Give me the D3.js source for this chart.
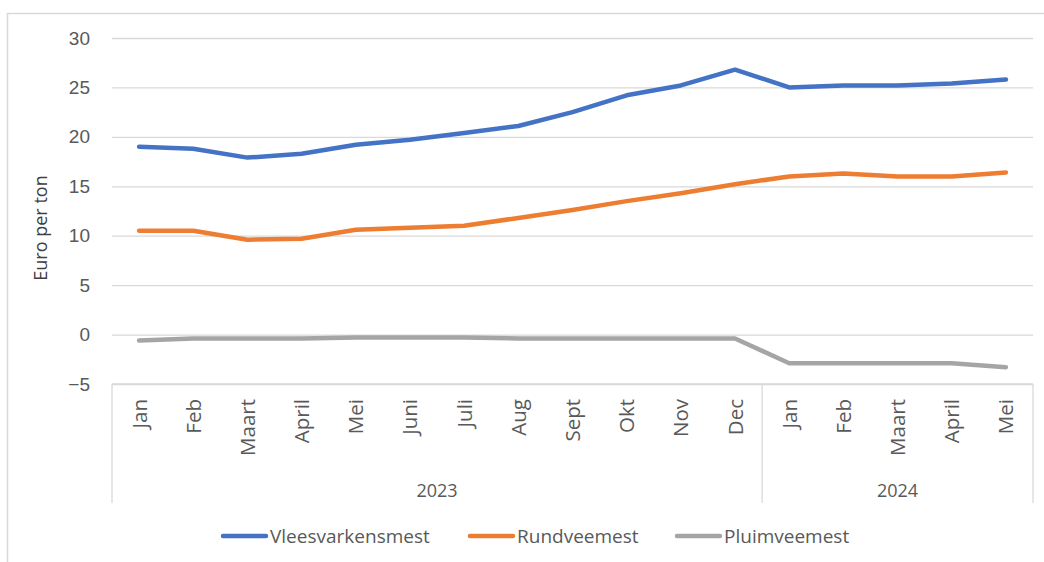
<!DOCTYPE html>
<html>
<head>
<meta charset="utf-8">
<script src="https://cdn.jsdelivr.net/npm/d3@7"></script>
<style>
  body { margin: 0; background: #fff; }
  svg { display: block; font-family: "Open Sans", "Noto Sans", sans-serif; }
</style>
</head>
<body>
<div id="chart"></div>
<script>
const months = ["Jan", "Feb", "Maart", "April", "Mei", "Juni", "Juli", "Aug", "Sept", "Okt", "Nov", "Dec",
                "Jan", "Feb", "Maart", "April", "Mei"];
const years = [{ label: "2023", count: 12 }, { label: "2024", count: 5 }];
const yTicks = [-5, 0, 5, 10, 15, 20, 25, 30];

const vleesvarkensmest = [19.0, 18.8, 17.9, 18.3, 19.2, 19.7, 20.4, 21.1, 22.5, 24.2, 25.2, 26.8, 25.0, 25.2, 25.2, 25.4, 25.8];
const rundveemest = [10.5, 10.5, 9.6, 9.7, 10.6, 10.8, 11.0, 11.8, 12.6, 13.5, 14.3, 15.2, 16.0, 16.3, 16.0, 16.0, 16.4];
const pluimveemest = [-0.6, -0.4, -0.4, -0.4, -0.3, -0.3, -0.3, -0.4, -0.4, -0.4, -0.4, -0.4, -2.9, -2.9, -2.9, -2.9, -3.3];

const series = [
    { name: "Vleesvarkensmest", values: vleesvarkensmest, color: "#4472C4" },
    { name: "Rundveemest", values: rundveemest, color: "#ED7D31" },
    { name: "Pluimveemest", values: pluimveemest, color: "#A5A5A5" }
];

const W = 1044, H = 562;
const plotLeft = 112, plotRight = 1033, plotTop = 38, plotBottom = 384;
const textColor = "#595959";
const gridColor = "#d9d9d9";

const svg = d3.select("#chart").append("svg")
    .attr("width", W)
    .attr("height", H);

// outer chart border
svg.append("rect")
    .attr("x", 7.5).attr("y", 13.5)
    .attr("width", W).attr("height", H)
    .attr("fill", "none")
    .attr("stroke", gridColor)
    .attr("stroke-width", 1.5);

const x = d3.scaleBand()
    .domain(d3.range(months.length))
    .range([plotLeft, plotRight]);

const y = d3.scaleLinear()
    .domain([-5, 30])
    .range([plotBottom, plotTop]);

// gridlines + y labels
const yAxis = svg.append("g")
    .attr("transform", `translate(${plotLeft},0)`)
    .call(d3.axisLeft(y).tickValues(yTicks).tickSize(-(plotRight - plotLeft)).tickPadding(22));
yAxis.select(".domain").remove();
yAxis.selectAll(".tick line").attr("stroke", gridColor).attr("stroke-width", 1.3);
yAxis.selectAll(".tick text")
    .attr("fill", textColor)
    .style("font-size", "19px");

// y axis title
svg.append("text")
    .attr("transform", "translate(47,228) rotate(-90)")
    .attr("text-anchor", "middle")
    .attr("fill", "#404040")
    .style("font-size", "18px")
    .text("Euro per ton");

// category box
const boxBottom = 503;
svg.append("line")
    .attr("x1", plotLeft).attr("x2", plotRight)
    .attr("y1", plotBottom).attr("y2", plotBottom)
    .attr("stroke", gridColor).attr("stroke-width", 1.3);

let idx = 0;
const sepPositions = [plotLeft];
years.forEach(yr => {
    idx += yr.count;
    sepPositions.push(x(idx - 1) + x.bandwidth());
});
svg.selectAll(".sep")
    .data(sepPositions)
    .enter().append("line")
    .attr("x1", d => d).attr("x2", d => d)
    .attr("y1", plotBottom).attr("y2", boxBottom)
    .attr("stroke", gridColor).attr("stroke-width", 1.3);

// month labels, rotated
svg.selectAll(".month")
    .data(months)
    .enter().append("text")
    .attr("transform", (d, i) => `translate(${x(i) + x.bandwidth() / 2 + 7.5},399) rotate(-90)`)
    .attr("text-anchor", "end")
    .attr("fill", textColor)
    .style("font-size", "20.5px")
    .text(d => d);

// year labels
let start = 0;
years.forEach(yr => {
    const x0 = x(start), x1 = x(start + yr.count - 1) + x.bandwidth();
    svg.append("text")
        .attr("x", (x0 + x1) / 2)
        .attr("y", 497)
        .attr("text-anchor", "middle")
        .attr("fill", textColor)
        .style("font-size", "18px")
        .text(yr.label);
    start += yr.count;
});

// lines
const line = d3.line()
    .x((d, i) => x(i) + x.bandwidth() / 2)
    .y(d => y(d));

svg.selectAll(".series")
    .data(series)
    .enter().append("path")
    .attr("d", d => line(d.values))
    .attr("fill", "none")
    .attr("stroke", d => d.color)
    .attr("stroke-width", 4.5)
    .attr("stroke-linejoin", "round")
    .attr("stroke-linecap", "round");

// legend
const legendX = [223, 470, 677];
const legend = svg.selectAll(".legend")
    .data(series)
    .enter().append("g")
    .attr("transform", (d, i) => `translate(${legendX[i]},536)`);
legend.append("line")
    .attr("x1", 0).attr("x2", 43)
    .attr("stroke", d => d.color)
    .attr("stroke-width", 4.5)
    .attr("stroke-linecap", "round");
legend.append("text")
    .attr("x", 47)
    .attr("dy", "0.35em")
    .attr("fill", textColor)
    .style("font-size", "19px")
    .text(d => d.name);
</script>
</body>
</html>
